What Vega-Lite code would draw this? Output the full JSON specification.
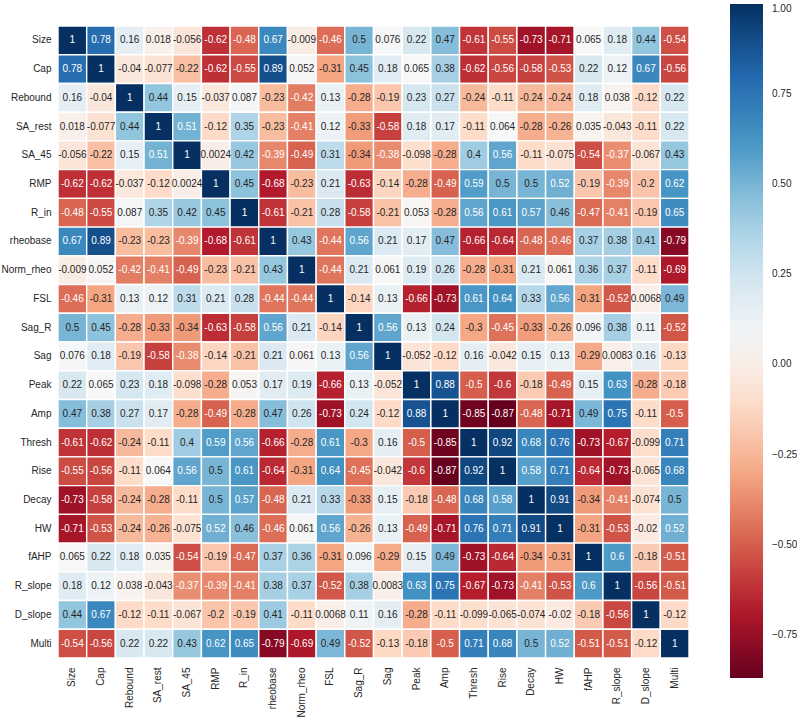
{
"$schema": "https://vega.github.io/schema/vega-lite/v6.json",
"width": 631, "height": 632,
"autosize": {"type": "none"},
"padding": {"left": 58, "top": 26, "right": 108, "bottom": 60},
"background": "white",
"config": {"view": {"stroke": null}, "font": "Liberation Sans",
  "locale": {"number": {"decimal": ".", "thousands": ",", "grouping": [3], "currency": ["$", ""], "minus": "-"}}},
"data": {"values": [
{"r":"Size","c":"Size","v":1},{"r":"Size","c":"Cap","v":0.78},{"r":"Size","c":"Rebound","v":0.16},{"r":"Size","c":"SA_rest","v":0.018},{"r":"Size","c":"SA_45","v":-0.056},{"r":"Size","c":"RMP","v":-0.62},{"r":"Size","c":"R_in","v":-0.48},{"r":"Size","c":"rheobase","v":0.67},{"r":"Size","c":"Norm_rheo","v":-0.009},{"r":"Size","c":"FSL","v":-0.46},{"r":"Size","c":"Sag_R","v":0.5},{"r":"Size","c":"Sag","v":0.076},{"r":"Size","c":"Peak","v":0.22},{"r":"Size","c":"Amp","v":0.47},{"r":"Size","c":"Thresh","v":-0.61},{"r":"Size","c":"Rise","v":-0.55},{"r":"Size","c":"Decay","v":-0.73},{"r":"Size","c":"HW","v":-0.71},{"r":"Size","c":"fAHP","v":0.065},{"r":"Size","c":"R_slope","v":0.18},{"r":"Size","c":"D_slope","v":0.44},{"r":"Size","c":"Multi","v":-0.54},
{"r":"Cap","c":"Size","v":0.78},{"r":"Cap","c":"Cap","v":1},{"r":"Cap","c":"Rebound","v":-0.04},{"r":"Cap","c":"SA_rest","v":-0.077},{"r":"Cap","c":"SA_45","v":-0.22},{"r":"Cap","c":"RMP","v":-0.62},{"r":"Cap","c":"R_in","v":-0.55},{"r":"Cap","c":"rheobase","v":0.89},{"r":"Cap","c":"Norm_rheo","v":0.052},{"r":"Cap","c":"FSL","v":-0.31},{"r":"Cap","c":"Sag_R","v":0.45},{"r":"Cap","c":"Sag","v":0.18},{"r":"Cap","c":"Peak","v":0.065},{"r":"Cap","c":"Amp","v":0.38},{"r":"Cap","c":"Thresh","v":-0.62},{"r":"Cap","c":"Rise","v":-0.56},{"r":"Cap","c":"Decay","v":-0.58},{"r":"Cap","c":"HW","v":-0.53},{"r":"Cap","c":"fAHP","v":0.22},{"r":"Cap","c":"R_slope","v":0.12},{"r":"Cap","c":"D_slope","v":0.67},{"r":"Cap","c":"Multi","v":-0.56},
{"r":"Rebound","c":"Size","v":0.16},{"r":"Rebound","c":"Cap","v":-0.04},{"r":"Rebound","c":"Rebound","v":1},{"r":"Rebound","c":"SA_rest","v":0.44},{"r":"Rebound","c":"SA_45","v":0.15},{"r":"Rebound","c":"RMP","v":-0.037},{"r":"Rebound","c":"R_in","v":0.087},{"r":"Rebound","c":"rheobase","v":-0.23},{"r":"Rebound","c":"Norm_rheo","v":-0.42},{"r":"Rebound","c":"FSL","v":0.13},{"r":"Rebound","c":"Sag_R","v":-0.28},{"r":"Rebound","c":"Sag","v":-0.19},{"r":"Rebound","c":"Peak","v":0.23},{"r":"Rebound","c":"Amp","v":0.27},{"r":"Rebound","c":"Thresh","v":-0.24},{"r":"Rebound","c":"Rise","v":-0.11},{"r":"Rebound","c":"Decay","v":-0.24},{"r":"Rebound","c":"HW","v":-0.24},{"r":"Rebound","c":"fAHP","v":0.18},{"r":"Rebound","c":"R_slope","v":0.038},{"r":"Rebound","c":"D_slope","v":-0.12},{"r":"Rebound","c":"Multi","v":0.22},
{"r":"SA_rest","c":"Size","v":0.018},{"r":"SA_rest","c":"Cap","v":-0.077},{"r":"SA_rest","c":"Rebound","v":0.44},{"r":"SA_rest","c":"SA_rest","v":1},{"r":"SA_rest","c":"SA_45","v":0.51},{"r":"SA_rest","c":"RMP","v":-0.12},{"r":"SA_rest","c":"R_in","v":0.35},{"r":"SA_rest","c":"rheobase","v":-0.23},{"r":"SA_rest","c":"Norm_rheo","v":-0.41},{"r":"SA_rest","c":"FSL","v":0.12},{"r":"SA_rest","c":"Sag_R","v":-0.33},{"r":"SA_rest","c":"Sag","v":-0.58},{"r":"SA_rest","c":"Peak","v":0.18},{"r":"SA_rest","c":"Amp","v":0.17},{"r":"SA_rest","c":"Thresh","v":-0.11},{"r":"SA_rest","c":"Rise","v":0.064},{"r":"SA_rest","c":"Decay","v":-0.28},{"r":"SA_rest","c":"HW","v":-0.26},{"r":"SA_rest","c":"fAHP","v":0.035},{"r":"SA_rest","c":"R_slope","v":-0.043},{"r":"SA_rest","c":"D_slope","v":-0.11},{"r":"SA_rest","c":"Multi","v":0.22},
{"r":"SA_45","c":"Size","v":-0.056},{"r":"SA_45","c":"Cap","v":-0.22},{"r":"SA_45","c":"Rebound","v":0.15},{"r":"SA_45","c":"SA_rest","v":0.51},{"r":"SA_45","c":"SA_45","v":1},{"r":"SA_45","c":"RMP","v":0.0024},{"r":"SA_45","c":"R_in","v":0.42},{"r":"SA_45","c":"rheobase","v":-0.39},{"r":"SA_45","c":"Norm_rheo","v":-0.49},{"r":"SA_45","c":"FSL","v":0.31},{"r":"SA_45","c":"Sag_R","v":-0.34},{"r":"SA_45","c":"Sag","v":-0.38},{"r":"SA_45","c":"Peak","v":-0.098},{"r":"SA_45","c":"Amp","v":-0.28},{"r":"SA_45","c":"Thresh","v":0.4},{"r":"SA_45","c":"Rise","v":0.56},{"r":"SA_45","c":"Decay","v":-0.11},{"r":"SA_45","c":"HW","v":-0.075},{"r":"SA_45","c":"fAHP","v":-0.54},{"r":"SA_45","c":"R_slope","v":-0.37},{"r":"SA_45","c":"D_slope","v":-0.067},{"r":"SA_45","c":"Multi","v":0.43},
{"r":"RMP","c":"Size","v":-0.62},{"r":"RMP","c":"Cap","v":-0.62},{"r":"RMP","c":"Rebound","v":-0.037},{"r":"RMP","c":"SA_rest","v":-0.12},{"r":"RMP","c":"SA_45","v":0.0024},{"r":"RMP","c":"RMP","v":1},{"r":"RMP","c":"R_in","v":0.45},{"r":"RMP","c":"rheobase","v":-0.68},{"r":"RMP","c":"Norm_rheo","v":-0.23},{"r":"RMP","c":"FSL","v":0.21},{"r":"RMP","c":"Sag_R","v":-0.63},{"r":"RMP","c":"Sag","v":-0.14},{"r":"RMP","c":"Peak","v":-0.28},{"r":"RMP","c":"Amp","v":-0.49},{"r":"RMP","c":"Thresh","v":0.59},{"r":"RMP","c":"Rise","v":0.5},{"r":"RMP","c":"Decay","v":0.5},{"r":"RMP","c":"HW","v":0.52},{"r":"RMP","c":"fAHP","v":-0.19},{"r":"RMP","c":"R_slope","v":-0.39},{"r":"RMP","c":"D_slope","v":-0.2},{"r":"RMP","c":"Multi","v":0.62},
{"r":"R_in","c":"Size","v":-0.48},{"r":"R_in","c":"Cap","v":-0.55},{"r":"R_in","c":"Rebound","v":0.087},{"r":"R_in","c":"SA_rest","v":0.35},{"r":"R_in","c":"SA_45","v":0.42},{"r":"R_in","c":"RMP","v":0.45},{"r":"R_in","c":"R_in","v":1},{"r":"R_in","c":"rheobase","v":-0.61},{"r":"R_in","c":"Norm_rheo","v":-0.21},{"r":"R_in","c":"FSL","v":0.28},{"r":"R_in","c":"Sag_R","v":-0.58},{"r":"R_in","c":"Sag","v":-0.21},{"r":"R_in","c":"Peak","v":0.053},{"r":"R_in","c":"Amp","v":-0.28},{"r":"R_in","c":"Thresh","v":0.56},{"r":"R_in","c":"Rise","v":0.61},{"r":"R_in","c":"Decay","v":0.57},{"r":"R_in","c":"HW","v":0.46},{"r":"R_in","c":"fAHP","v":-0.47},{"r":"R_in","c":"R_slope","v":-0.41},{"r":"R_in","c":"D_slope","v":-0.19},{"r":"R_in","c":"Multi","v":0.65},
{"r":"rheobase","c":"Size","v":0.67},{"r":"rheobase","c":"Cap","v":0.89},{"r":"rheobase","c":"Rebound","v":-0.23},{"r":"rheobase","c":"SA_rest","v":-0.23},{"r":"rheobase","c":"SA_45","v":-0.39},{"r":"rheobase","c":"RMP","v":-0.68},{"r":"rheobase","c":"R_in","v":-0.61},{"r":"rheobase","c":"rheobase","v":1},{"r":"rheobase","c":"Norm_rheo","v":0.43},{"r":"rheobase","c":"FSL","v":-0.44},{"r":"rheobase","c":"Sag_R","v":0.56},{"r":"rheobase","c":"Sag","v":0.21},{"r":"rheobase","c":"Peak","v":0.17},{"r":"rheobase","c":"Amp","v":0.47},{"r":"rheobase","c":"Thresh","v":-0.66},{"r":"rheobase","c":"Rise","v":-0.64},{"r":"rheobase","c":"Decay","v":-0.48},{"r":"rheobase","c":"HW","v":-0.46},{"r":"rheobase","c":"fAHP","v":0.37},{"r":"rheobase","c":"R_slope","v":0.38},{"r":"rheobase","c":"D_slope","v":0.41},{"r":"rheobase","c":"Multi","v":-0.79},
{"r":"Norm_rheo","c":"Size","v":-0.009},{"r":"Norm_rheo","c":"Cap","v":0.052},{"r":"Norm_rheo","c":"Rebound","v":-0.42},{"r":"Norm_rheo","c":"SA_rest","v":-0.41},{"r":"Norm_rheo","c":"SA_45","v":-0.49},{"r":"Norm_rheo","c":"RMP","v":-0.23},{"r":"Norm_rheo","c":"R_in","v":-0.21},{"r":"Norm_rheo","c":"rheobase","v":0.43},{"r":"Norm_rheo","c":"Norm_rheo","v":1},{"r":"Norm_rheo","c":"FSL","v":-0.44},{"r":"Norm_rheo","c":"Sag_R","v":0.21},{"r":"Norm_rheo","c":"Sag","v":0.061},{"r":"Norm_rheo","c":"Peak","v":0.19},{"r":"Norm_rheo","c":"Amp","v":0.26},{"r":"Norm_rheo","c":"Thresh","v":-0.28},{"r":"Norm_rheo","c":"Rise","v":-0.31},{"r":"Norm_rheo","c":"Decay","v":0.21},{"r":"Norm_rheo","c":"HW","v":0.061},{"r":"Norm_rheo","c":"fAHP","v":0.36},{"r":"Norm_rheo","c":"R_slope","v":0.37},{"r":"Norm_rheo","c":"D_slope","v":-0.11},{"r":"Norm_rheo","c":"Multi","v":-0.69},
{"r":"FSL","c":"Size","v":-0.46},{"r":"FSL","c":"Cap","v":-0.31},{"r":"FSL","c":"Rebound","v":0.13},{"r":"FSL","c":"SA_rest","v":0.12},{"r":"FSL","c":"SA_45","v":0.31},{"r":"FSL","c":"RMP","v":0.21},{"r":"FSL","c":"R_in","v":0.28},{"r":"FSL","c":"rheobase","v":-0.44},{"r":"FSL","c":"Norm_rheo","v":-0.44},{"r":"FSL","c":"FSL","v":1},{"r":"FSL","c":"Sag_R","v":-0.14},{"r":"FSL","c":"Sag","v":0.13},{"r":"FSL","c":"Peak","v":-0.66},{"r":"FSL","c":"Amp","v":-0.73},{"r":"FSL","c":"Thresh","v":0.61},{"r":"FSL","c":"Rise","v":0.64},{"r":"FSL","c":"Decay","v":0.33},{"r":"FSL","c":"HW","v":0.56},{"r":"FSL","c":"fAHP","v":-0.31},{"r":"FSL","c":"R_slope","v":-0.52},{"r":"FSL","c":"D_slope","v":0.0068},{"r":"FSL","c":"Multi","v":0.49},
{"r":"Sag_R","c":"Size","v":0.5},{"r":"Sag_R","c":"Cap","v":0.45},{"r":"Sag_R","c":"Rebound","v":-0.28},{"r":"Sag_R","c":"SA_rest","v":-0.33},{"r":"Sag_R","c":"SA_45","v":-0.34},{"r":"Sag_R","c":"RMP","v":-0.63},{"r":"Sag_R","c":"R_in","v":-0.58},{"r":"Sag_R","c":"rheobase","v":0.56},{"r":"Sag_R","c":"Norm_rheo","v":0.21},{"r":"Sag_R","c":"FSL","v":-0.14},{"r":"Sag_R","c":"Sag_R","v":1},{"r":"Sag_R","c":"Sag","v":0.56},{"r":"Sag_R","c":"Peak","v":0.13},{"r":"Sag_R","c":"Amp","v":0.24},{"r":"Sag_R","c":"Thresh","v":-0.3},{"r":"Sag_R","c":"Rise","v":-0.45},{"r":"Sag_R","c":"Decay","v":-0.33},{"r":"Sag_R","c":"HW","v":-0.26},{"r":"Sag_R","c":"fAHP","v":0.096},{"r":"Sag_R","c":"R_slope","v":0.38},{"r":"Sag_R","c":"D_slope","v":0.11},{"r":"Sag_R","c":"Multi","v":-0.52},
{"r":"Sag","c":"Size","v":0.076},{"r":"Sag","c":"Cap","v":0.18},{"r":"Sag","c":"Rebound","v":-0.19},{"r":"Sag","c":"SA_rest","v":-0.58},{"r":"Sag","c":"SA_45","v":-0.38},{"r":"Sag","c":"RMP","v":-0.14},{"r":"Sag","c":"R_in","v":-0.21},{"r":"Sag","c":"rheobase","v":0.21},{"r":"Sag","c":"Norm_rheo","v":0.061},{"r":"Sag","c":"FSL","v":0.13},{"r":"Sag","c":"Sag_R","v":0.56},{"r":"Sag","c":"Sag","v":1},{"r":"Sag","c":"Peak","v":-0.052},{"r":"Sag","c":"Amp","v":-0.12},{"r":"Sag","c":"Thresh","v":0.16},{"r":"Sag","c":"Rise","v":-0.042},{"r":"Sag","c":"Decay","v":0.15},{"r":"Sag","c":"HW","v":0.13},{"r":"Sag","c":"fAHP","v":-0.29},{"r":"Sag","c":"R_slope","v":0.0083},{"r":"Sag","c":"D_slope","v":0.16},{"r":"Sag","c":"Multi","v":-0.13},
{"r":"Peak","c":"Size","v":0.22},{"r":"Peak","c":"Cap","v":0.065},{"r":"Peak","c":"Rebound","v":0.23},{"r":"Peak","c":"SA_rest","v":0.18},{"r":"Peak","c":"SA_45","v":-0.098},{"r":"Peak","c":"RMP","v":-0.28},{"r":"Peak","c":"R_in","v":0.053},{"r":"Peak","c":"rheobase","v":0.17},{"r":"Peak","c":"Norm_rheo","v":0.19},{"r":"Peak","c":"FSL","v":-0.66},{"r":"Peak","c":"Sag_R","v":0.13},{"r":"Peak","c":"Sag","v":-0.052},{"r":"Peak","c":"Peak","v":1},{"r":"Peak","c":"Amp","v":0.88},{"r":"Peak","c":"Thresh","v":-0.5},{"r":"Peak","c":"Rise","v":-0.6},{"r":"Peak","c":"Decay","v":-0.18},{"r":"Peak","c":"HW","v":-0.49},{"r":"Peak","c":"fAHP","v":0.15},{"r":"Peak","c":"R_slope","v":0.63},{"r":"Peak","c":"D_slope","v":-0.28},{"r":"Peak","c":"Multi","v":-0.18},
{"r":"Amp","c":"Size","v":0.47},{"r":"Amp","c":"Cap","v":0.38},{"r":"Amp","c":"Rebound","v":0.27},{"r":"Amp","c":"SA_rest","v":0.17},{"r":"Amp","c":"SA_45","v":-0.28},{"r":"Amp","c":"RMP","v":-0.49},{"r":"Amp","c":"R_in","v":-0.28},{"r":"Amp","c":"rheobase","v":0.47},{"r":"Amp","c":"Norm_rheo","v":0.26},{"r":"Amp","c":"FSL","v":-0.73},{"r":"Amp","c":"Sag_R","v":0.24},{"r":"Amp","c":"Sag","v":-0.12},{"r":"Amp","c":"Peak","v":0.88},{"r":"Amp","c":"Amp","v":1},{"r":"Amp","c":"Thresh","v":-0.85},{"r":"Amp","c":"Rise","v":-0.87},{"r":"Amp","c":"Decay","v":-0.48},{"r":"Amp","c":"HW","v":-0.71},{"r":"Amp","c":"fAHP","v":0.49},{"r":"Amp","c":"R_slope","v":0.75},{"r":"Amp","c":"D_slope","v":-0.11},{"r":"Amp","c":"Multi","v":-0.5},
{"r":"Thresh","c":"Size","v":-0.61},{"r":"Thresh","c":"Cap","v":-0.62},{"r":"Thresh","c":"Rebound","v":-0.24},{"r":"Thresh","c":"SA_rest","v":-0.11},{"r":"Thresh","c":"SA_45","v":0.4},{"r":"Thresh","c":"RMP","v":0.59},{"r":"Thresh","c":"R_in","v":0.56},{"r":"Thresh","c":"rheobase","v":-0.66},{"r":"Thresh","c":"Norm_rheo","v":-0.28},{"r":"Thresh","c":"FSL","v":0.61},{"r":"Thresh","c":"Sag_R","v":-0.3},{"r":"Thresh","c":"Sag","v":0.16},{"r":"Thresh","c":"Peak","v":-0.5},{"r":"Thresh","c":"Amp","v":-0.85},{"r":"Thresh","c":"Thresh","v":1},{"r":"Thresh","c":"Rise","v":0.92},{"r":"Thresh","c":"Decay","v":0.68},{"r":"Thresh","c":"HW","v":0.76},{"r":"Thresh","c":"fAHP","v":-0.73},{"r":"Thresh","c":"R_slope","v":-0.67},{"r":"Thresh","c":"D_slope","v":-0.099},{"r":"Thresh","c":"Multi","v":0.71},
{"r":"Rise","c":"Size","v":-0.55},{"r":"Rise","c":"Cap","v":-0.56},{"r":"Rise","c":"Rebound","v":-0.11},{"r":"Rise","c":"SA_rest","v":0.064},{"r":"Rise","c":"SA_45","v":0.56},{"r":"Rise","c":"RMP","v":0.5},{"r":"Rise","c":"R_in","v":0.61},{"r":"Rise","c":"rheobase","v":-0.64},{"r":"Rise","c":"Norm_rheo","v":-0.31},{"r":"Rise","c":"FSL","v":0.64},{"r":"Rise","c":"Sag_R","v":-0.45},{"r":"Rise","c":"Sag","v":-0.042},{"r":"Rise","c":"Peak","v":-0.6},{"r":"Rise","c":"Amp","v":-0.87},{"r":"Rise","c":"Thresh","v":0.92},{"r":"Rise","c":"Rise","v":1},{"r":"Rise","c":"Decay","v":0.58},{"r":"Rise","c":"HW","v":0.71},{"r":"Rise","c":"fAHP","v":-0.64},{"r":"Rise","c":"R_slope","v":-0.73},{"r":"Rise","c":"D_slope","v":-0.065},{"r":"Rise","c":"Multi","v":0.68},
{"r":"Decay","c":"Size","v":-0.73},{"r":"Decay","c":"Cap","v":-0.58},{"r":"Decay","c":"Rebound","v":-0.24},{"r":"Decay","c":"SA_rest","v":-0.28},{"r":"Decay","c":"SA_45","v":-0.11},{"r":"Decay","c":"RMP","v":0.5},{"r":"Decay","c":"R_in","v":0.57},{"r":"Decay","c":"rheobase","v":-0.48},{"r":"Decay","c":"Norm_rheo","v":0.21},{"r":"Decay","c":"FSL","v":0.33},{"r":"Decay","c":"Sag_R","v":-0.33},{"r":"Decay","c":"Sag","v":0.15},{"r":"Decay","c":"Peak","v":-0.18},{"r":"Decay","c":"Amp","v":-0.48},{"r":"Decay","c":"Thresh","v":0.68},{"r":"Decay","c":"Rise","v":0.58},{"r":"Decay","c":"Decay","v":1},{"r":"Decay","c":"HW","v":0.91},{"r":"Decay","c":"fAHP","v":-0.34},{"r":"Decay","c":"R_slope","v":-0.41},{"r":"Decay","c":"D_slope","v":-0.074},{"r":"Decay","c":"Multi","v":0.5},
{"r":"HW","c":"Size","v":-0.71},{"r":"HW","c":"Cap","v":-0.53},{"r":"HW","c":"Rebound","v":-0.24},{"r":"HW","c":"SA_rest","v":-0.26},{"r":"HW","c":"SA_45","v":-0.075},{"r":"HW","c":"RMP","v":0.52},{"r":"HW","c":"R_in","v":0.46},{"r":"HW","c":"rheobase","v":-0.46},{"r":"HW","c":"Norm_rheo","v":0.061},{"r":"HW","c":"FSL","v":0.56},{"r":"HW","c":"Sag_R","v":-0.26},{"r":"HW","c":"Sag","v":0.13},{"r":"HW","c":"Peak","v":-0.49},{"r":"HW","c":"Amp","v":-0.71},{"r":"HW","c":"Thresh","v":0.76},{"r":"HW","c":"Rise","v":0.71},{"r":"HW","c":"Decay","v":0.91},{"r":"HW","c":"HW","v":1},{"r":"HW","c":"fAHP","v":-0.31},{"r":"HW","c":"R_slope","v":-0.53},{"r":"HW","c":"D_slope","v":-0.02},{"r":"HW","c":"Multi","v":0.52},
{"r":"fAHP","c":"Size","v":0.065},{"r":"fAHP","c":"Cap","v":0.22},{"r":"fAHP","c":"Rebound","v":0.18},{"r":"fAHP","c":"SA_rest","v":0.035},{"r":"fAHP","c":"SA_45","v":-0.54},{"r":"fAHP","c":"RMP","v":-0.19},{"r":"fAHP","c":"R_in","v":-0.47},{"r":"fAHP","c":"rheobase","v":0.37},{"r":"fAHP","c":"Norm_rheo","v":0.36},{"r":"fAHP","c":"FSL","v":-0.31},{"r":"fAHP","c":"Sag_R","v":0.096},{"r":"fAHP","c":"Sag","v":-0.29},{"r":"fAHP","c":"Peak","v":0.15},{"r":"fAHP","c":"Amp","v":0.49},{"r":"fAHP","c":"Thresh","v":-0.73},{"r":"fAHP","c":"Rise","v":-0.64},{"r":"fAHP","c":"Decay","v":-0.34},{"r":"fAHP","c":"HW","v":-0.31},{"r":"fAHP","c":"fAHP","v":1},{"r":"fAHP","c":"R_slope","v":0.6},{"r":"fAHP","c":"D_slope","v":-0.18},{"r":"fAHP","c":"Multi","v":-0.51},
{"r":"R_slope","c":"Size","v":0.18},{"r":"R_slope","c":"Cap","v":0.12},{"r":"R_slope","c":"Rebound","v":0.038},{"r":"R_slope","c":"SA_rest","v":-0.043},{"r":"R_slope","c":"SA_45","v":-0.37},{"r":"R_slope","c":"RMP","v":-0.39},{"r":"R_slope","c":"R_in","v":-0.41},{"r":"R_slope","c":"rheobase","v":0.38},{"r":"R_slope","c":"Norm_rheo","v":0.37},{"r":"R_slope","c":"FSL","v":-0.52},{"r":"R_slope","c":"Sag_R","v":0.38},{"r":"R_slope","c":"Sag","v":0.0083},{"r":"R_slope","c":"Peak","v":0.63},{"r":"R_slope","c":"Amp","v":0.75},{"r":"R_slope","c":"Thresh","v":-0.67},{"r":"R_slope","c":"Rise","v":-0.73},{"r":"R_slope","c":"Decay","v":-0.41},{"r":"R_slope","c":"HW","v":-0.53},{"r":"R_slope","c":"fAHP","v":0.6},{"r":"R_slope","c":"R_slope","v":1},{"r":"R_slope","c":"D_slope","v":-0.56},{"r":"R_slope","c":"Multi","v":-0.51},
{"r":"D_slope","c":"Size","v":0.44},{"r":"D_slope","c":"Cap","v":0.67},{"r":"D_slope","c":"Rebound","v":-0.12},{"r":"D_slope","c":"SA_rest","v":-0.11},{"r":"D_slope","c":"SA_45","v":-0.067},{"r":"D_slope","c":"RMP","v":-0.2},{"r":"D_slope","c":"R_in","v":-0.19},{"r":"D_slope","c":"rheobase","v":0.41},{"r":"D_slope","c":"Norm_rheo","v":-0.11},{"r":"D_slope","c":"FSL","v":0.0068},{"r":"D_slope","c":"Sag_R","v":0.11},{"r":"D_slope","c":"Sag","v":0.16},{"r":"D_slope","c":"Peak","v":-0.28},{"r":"D_slope","c":"Amp","v":-0.11},{"r":"D_slope","c":"Thresh","v":-0.099},{"r":"D_slope","c":"Rise","v":-0.065},{"r":"D_slope","c":"Decay","v":-0.074},{"r":"D_slope","c":"HW","v":-0.02},{"r":"D_slope","c":"fAHP","v":-0.18},{"r":"D_slope","c":"R_slope","v":-0.56},{"r":"D_slope","c":"D_slope","v":1},{"r":"D_slope","c":"Multi","v":-0.12},
{"r":"Multi","c":"Size","v":-0.54},{"r":"Multi","c":"Cap","v":-0.56},{"r":"Multi","c":"Rebound","v":0.22},{"r":"Multi","c":"SA_rest","v":0.22},{"r":"Multi","c":"SA_45","v":0.43},{"r":"Multi","c":"RMP","v":0.62},{"r":"Multi","c":"R_in","v":0.65},{"r":"Multi","c":"rheobase","v":-0.79},{"r":"Multi","c":"Norm_rheo","v":-0.69},{"r":"Multi","c":"FSL","v":0.49},{"r":"Multi","c":"Sag_R","v":-0.52},{"r":"Multi","c":"Sag","v":-0.13},{"r":"Multi","c":"Peak","v":-0.18},{"r":"Multi","c":"Amp","v":-0.5},{"r":"Multi","c":"Thresh","v":0.71},{"r":"Multi","c":"Rise","v":0.68},{"r":"Multi","c":"Decay","v":0.5},{"r":"Multi","c":"HW","v":0.52},{"r":"Multi","c":"fAHP","v":-0.51},{"r":"Multi","c":"R_slope","v":-0.51},{"r":"Multi","c":"D_slope","v":-0.12},{"r":"Multi","c":"Multi","v":1}
]},
"encoding": {
  "x": {"field": "c", "type": "nominal",
    "sort": ["Size","Cap","Rebound","SA_rest","SA_45","RMP","R_in","rheobase","Norm_rheo","FSL","Sag_R","Sag","Peak","Amp","Thresh","Rise","Decay","HW","fAHP","R_slope","D_slope","Multi"],
    "scale": {"paddingInner": 0, "paddingOuter": 0},
    "axis": {"title": null, "labelAngle": -90, "ticks": false, "domain": false, "labelPadding": 9, "labelFontSize": 10, "labelColor": "#262626", "labelFont": "Liberation Sans"}},
  "y": {"field": "r", "type": "nominal",
    "sort": ["Size","Cap","Rebound","SA_rest","SA_45","RMP","R_in","rheobase","Norm_rheo","FSL","Sag_R","Sag","Peak","Amp","Thresh","Rise","Decay","HW","fAHP","R_slope","D_slope","Multi"],
    "scale": {"paddingInner": 0, "paddingOuter": 0},
    "axis": {"title": null, "ticks": false, "domain": false, "labelPadding": 7, "labelFontSize": 10, "labelColor": "#262626", "labelFont": "Liberation Sans"}}
},
"layer": [
  {"mark": {"type": "rect", "stroke": "white", "strokeWidth": 1.4},
   "encoding": {"color": {"field": "v", "type": "quantitative",
     "scale": {"domain": [-0.87, -0.683, -0.496, -0.309, -0.122, 0.065, 0.252, 0.439, 0.626, 0.813, 1.0],
               "range": ["#67001f", "#b2182b", "#d6604d", "#f4a582", "#fddbc7", "#f7f7f7", "#d1e5f0", "#92c5de", "#4393c3", "#2166ac", "#053061"],
               "interpolate": "rgb", "clamp": true},
     "legend": {"orient": "none", "legendX": 672, "legendY": -22, "direction": "vertical",
       "gradientLength": 674, "gradientThickness": 33, "gradientStrokeWidth": 0, "title": null,
       "values": [-0.75, -0.5, -0.25, 0, 0.25, 0.5, 0.75, 1], "format": ".2f",
       "labelExpr": "replace(datum.label, '-', '\u2212')",
       "labelOverlap": false, "labelFontSize": 10, "labelColor": "#262626", "labelOffset": 9, "labelFont": "Liberation Sans"}}}},
  {"mark": {"type": "text", "fontSize": 10, "font": "Liberation Sans"},
   "encoding": {"text": {"field": "v", "type": "quantitative", "format": ".2~g"},
     "color": {"condition": {"test": "datum.v >= 0.51 || datum.v <= -0.36", "value": "white"}, "value": "#262626"}}}
]
}
